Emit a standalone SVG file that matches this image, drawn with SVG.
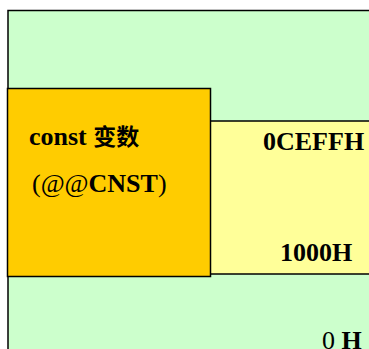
<svg xmlns="http://www.w3.org/2000/svg" width="369" height="349" viewBox="0 0 369 349">
<style>
.box{stroke:#000;stroke-width:1.5}
.lbl{font-family:"Liberation Serif","Noto Sans CJK SC",serif;font-weight:bold;font-size:26px;fill:#000}
.reg{font-weight:normal}
</style>
<rect width="369" height="349" fill="#fff"/>
<g id="memory">
<rect class="box" x="8" y="10.5" width="370" height="350" fill="#CCFFCC"/>
<text class="lbl" x="322" y="349"><tspan class="reg">0</tspan> H</text>
</g>
<g id="region">
<rect class="box" x="210" y="121" width="170" height="153" fill="#FFFF99"/>
<text class="lbl" x="263" y="150">0CEFFH</text>
<text class="lbl" x="280" y="261">1000H</text>
</g>
<g id="const">
<rect class="box" x="7.5" y="88.5" width="203" height="188" fill="#FFCC00"/>
<text class="lbl" x="29" y="145" font-size="24">const <tspan font-family="Noto Sans CJK SC,sans-serif" font-weight="bold" font-size="23">变数</tspan></text>
<text class="lbl" x="32" y="192" font-size="24"><tspan class="reg">(@@</tspan>CNST<tspan class="reg">)</tspan></text>
</g>
<g id="connectors"/>
</svg>
